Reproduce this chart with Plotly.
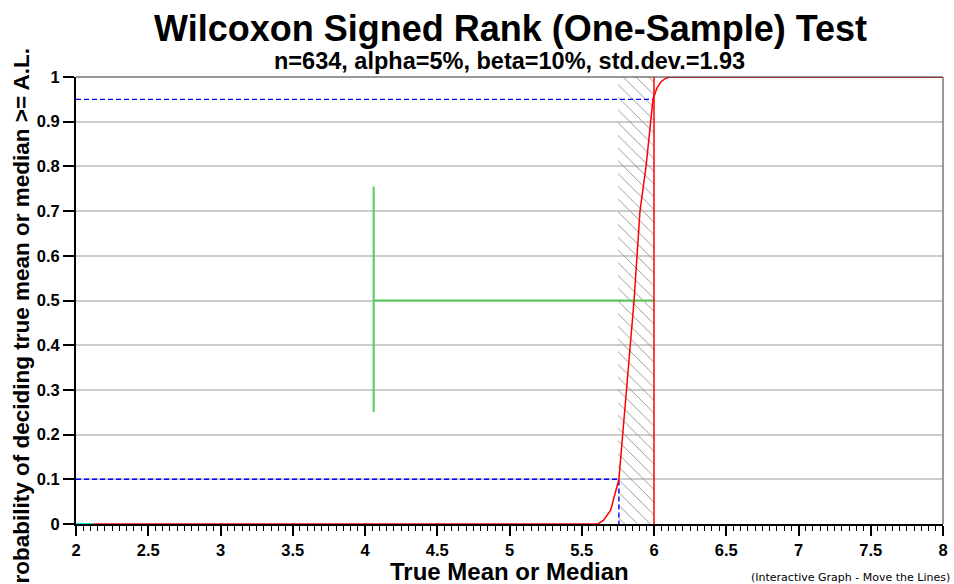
import plotly.graph_objects as go

# ---- data ----
curve_x = [2.12, 5.55, 5.61, 5.65, 5.70, 5.757, 5.78, 5.813, 5.862, 5.903, 5.945, 5.977, 5.993, 6.02, 6.05, 6.08, 6.11, 8.0]
curve_y = [0.0, 0.0, 0.0, 0.008, 0.031, 0.10, 0.19, 0.30, 0.50, 0.70, 0.80, 0.90, 0.95, 0.975, 0.99, 0.997, 1.0, 1.0]

cyan_x = [2.0, 2.12]
cyan_y = [0.0, 0.0]

alpha_level = 0.95
beta_level = 0.10
x_beta = 5.757
x_al = 6.0
hatch_lo = 5.75
hatch_hi = 6.0

green_x = 4.06
green_lo = 0.25
green_hi = 0.755
green_mid = 0.5

x_ticks = [2, 2.5, 3, 3.5, 4, 4.5, 5, 5.5, 6, 6.5, 7, 7.5, 8]
x_tick_labels = ["2", "2.5", "3", "3.5", "4", "4.5", "5", "5.5", "6", "6.5", "7", "7.5", "8"]
y_ticks = [0, 0.1, 0.2, 0.3, 0.4, 0.5, 0.6, 0.7, 0.8, 0.9, 1]
y_tick_labels = ["0", "0.1", "0.2", "0.3", "0.4", "0.5", "0.6", "0.7", "0.8", "0.9", "1"]

title = "Wilcoxon Signed Rank (One-Sample) Test"
subtitle = "n=634, alpha=5%, beta=10%, std.dev.=1.93"
x_title = "True Mean or Median"
y_title = "Probability of deciding true mean or median >= A.L."
note = "(Interactive Graph - Move the Lines)"

FONT = "Liberation Sans"

W, H = 954, 584
L, R, T, B = 76, 954 - 943, 77, 584 - 524

fig = go.Figure()

# hatched region
fig.add_trace(go.Bar(
    x=[(hatch_lo + hatch_hi) / 2], y=[1.0], width=[hatch_hi - hatch_lo],
    marker=dict(color="rgba(0,0,0,0)", line=dict(width=0),
                pattern=dict(shape="\\", fgcolor="#909090", bgcolor="rgba(0,0,0,0)",
                             size=9, solidity=0.1, fillmode="replace")),
    hoverinfo="skip", showlegend=False))

# blue dashed guides
fig.add_trace(go.Scatter(x=[2.0, x_al], y=[alpha_level, alpha_level], mode="lines",
                         line=dict(color="#0000ff", width=1.4, dash="5px,3px"), showlegend=False))
fig.add_trace(go.Scatter(x=[2.0, x_beta, x_beta], y=[beta_level, beta_level, 0.0], mode="lines",
                         line=dict(color="#0000ff", width=1.4, dash="5px,3px"), showlegend=False))

# green cross
fig.add_trace(go.Scatter(x=[green_x, green_x], y=[green_lo, green_hi], mode="lines",
                         line=dict(color="#55cc55", width=2), showlegend=False))
fig.add_trace(go.Scatter(x=[green_x, x_al], y=[green_mid, green_mid], mode="lines",
                         line=dict(color="#55cc55", width=2), showlegend=False))

# red vertical at A.L.
fig.add_trace(go.Scatter(x=[x_al, x_al], y=[0.0, 1.0], mode="lines",
                         line=dict(color="#ff0000", width=1.5), showlegend=False))

# cyan segment
fig.add_trace(go.Scatter(x=cyan_x, y=cyan_y, mode="lines",
                         line=dict(color="#00e5e5", width=2), showlegend=False))

# red OC curve
fig.add_trace(go.Scatter(x=curve_x, y=curve_y, mode="lines",
                         line=dict(color="#ff0000", width=1.5), showlegend=False))

fig.update_layout(
    width=W, height=H,
    margin=dict(l=L, r=R, t=T, b=B, autoexpand=False),
    paper_bgcolor="white", plot_bgcolor="white",
    font=dict(family=FONT, color="black"),
    bargap=0,
    showlegend=False,
)

fig.update_xaxes(
    range=[2, 8], tickmode="array", tickvals=x_ticks, ticktext=x_tick_labels,
    showgrid=False, zeroline=False, automargin=False,
    showline=True, linecolor="black", linewidth=2,
    ticks="outside", ticklen=10, tickcolor="black", tickwidth=1.5,
    tickfont=dict(family=FONT, size=16.5, weight="bold", color="black"),
    minor=dict(dtick=0.05, ticks="outside", ticklen=5, tickcolor="black", tickwidth=1, showgrid=False),
)
fig.update_yaxes(
    range=[0, 1], tickmode="array", tickvals=y_ticks, ticktext=y_tick_labels,
    showgrid=True, gridcolor="#cccccc", gridwidth=1.5, zeroline=False, automargin=False,
    showline=True, linecolor="black", linewidth=2,
    ticks="outside", ticklen=11, tickcolor="black", tickwidth=1.5,
    tickfont=dict(family=FONT, size=16.5, weight="bold", color="black"),
)

# frame top and right
fig.add_shape(type="line", xref="paper", yref="paper", x0=0, x1=1, y0=1, y1=1,
              line=dict(color="#333333", width=1))
fig.add_shape(type="line", xref="paper", yref="paper", x0=1, x1=1, y0=0, y1=1,
              line=dict(color="#777777", width=1.5))

pw = 943 - 76
ph = 524 - 77

def px_x(p):
    return (p - 76) / pw

def px_y(p):
    return (524 - p) / ph

fig.add_annotation(text=title, xref="paper", yref="paper", x=px_x(510), y=px_y(29),
                   xanchor="center", yanchor="middle", showarrow=False,
                   font=dict(family=FONT, size=36, weight="bold", color="black"))
fig.add_annotation(text=subtitle, xref="paper", yref="paper", x=px_x(509), y=px_y(61),
                   xanchor="center", yanchor="middle", showarrow=False,
                   font=dict(family=FONT, size=23.5, weight="bold", color="black"))
fig.add_annotation(text=x_title, xref="paper", yref="paper", x=px_x(509), y=px_y(571),
                   xanchor="center", yanchor="middle", showarrow=False,
                   font=dict(family=FONT, size=24, weight="bold", color="black"))
fig.add_annotation(text=y_title, xref="paper", yref="paper", x=px_x(21), y=px_y(46),
                   xanchor="center", yanchor="top", showarrow=False, textangle=-90,
                   font=dict(family=FONT, size=22.5, weight="bold", color="black"))
fig.add_annotation(text=note, xref="paper", yref="paper", x=px_x(952), y=px_y(577),
                   xanchor="right", yanchor="middle", showarrow=False,
                   font=dict(family="DejaVu Sans", size=11, color="black"))

fig.write_html(
    "out.html",
    config={"displayModeBar": False},
    post_script="document.body.style.margin='0';document.body.style.overflow='hidden';",
)
